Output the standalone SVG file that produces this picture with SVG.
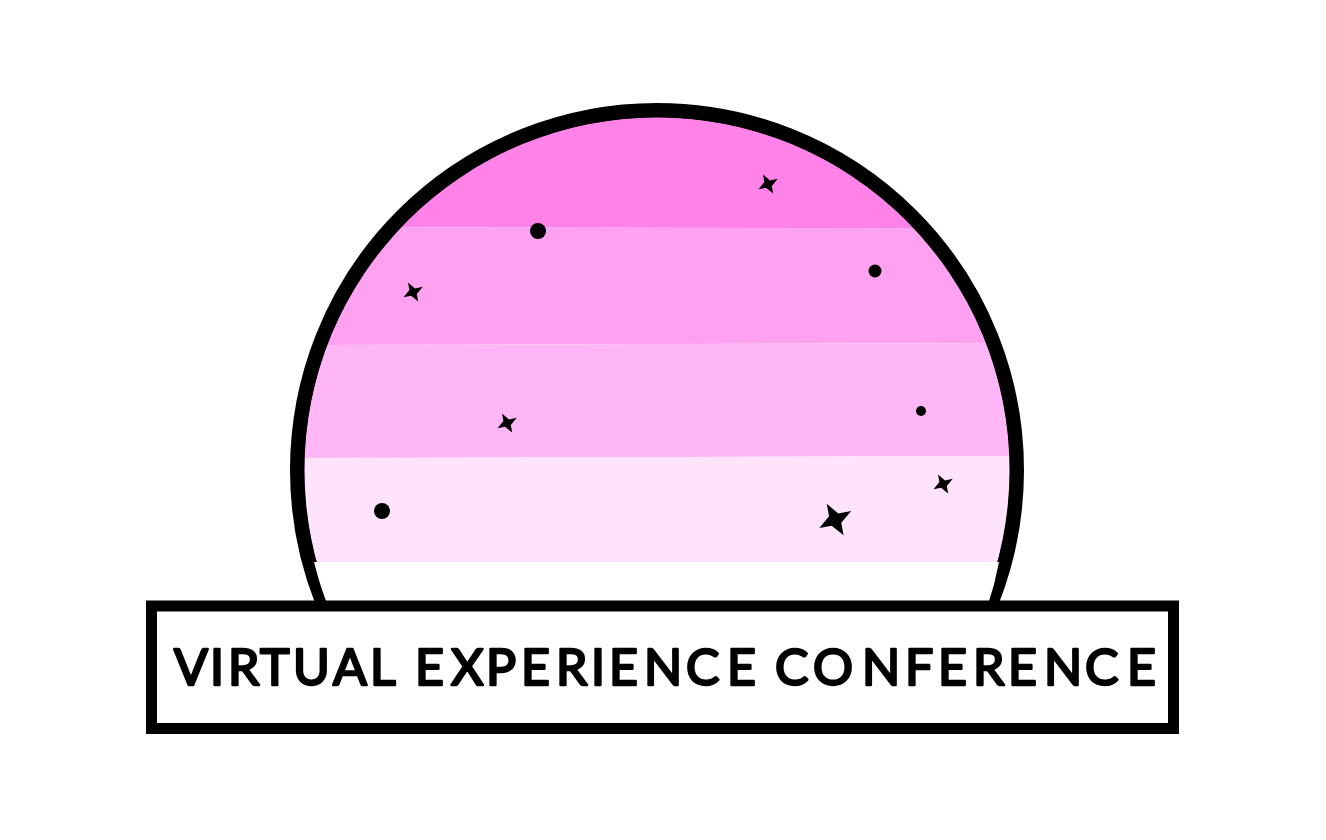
<svg xmlns="http://www.w3.org/2000/svg" width="1326" height="840" viewBox="0 0 1326 840">
<style>
.dot{fill:#000}
.star{fill:#000}
.cut{fill:#fff}
.title{font-family:"Lato","Open Sans",sans-serif;font-size:50px;fill:#000;stroke:#000;stroke-width:2.500;stroke-linejoin:round;stroke-linecap:round}
</style>
<defs>
<clipPath id="inner"><circle cx="657" cy="470" r="352.500"/></clipPath>
<clipPath id="above"><rect x="0" y="0" width="1326" height="605"/></clipPath>
<path id="s" d="M-5-9.500L2-3.600 9.800-5.200 3.800 2 5.200 9.500-2 3.800-9.500 5.200-3.600-2Z"/>
</defs>
<rect width="1326" height="840" fill="#fff"/>
<g id="dome">
<circle cx="657" cy="470" r="359.500" fill="#fff" stroke="#000" stroke-width="15" clip-path="url(#above)"/>
<path class="cut" d="M314 562H999Q995 584 987.500 606H328Q320 586 314 562Z"/>
<g clip-path="url(#inner)">
<path d="M290 100H1030V228.500L290 227Z" fill="#ff82e9"/>
<path d="M290 227L1030 228.500V343L290 345Z" fill="#ffa1f1"/>
<path d="M290 345L1030 343V456L290 458Z" fill="#ffb6f6"/>
<path d="M290 458L1030 456V562H290Z" fill="#fee3fb"/>
</g>
</g>
<g id="dots">
<circle class="dot" cx="538" cy="231" r="8"/>
<circle class="dot" cx="875" cy="271" r="6.500"/>
<circle class="dot" cx="921" cy="411" r="5"/>
<circle class="dot" cx="382" cy="511" r="8"/>
</g>
<g id="stars">
<use class="star" href="#s" transform="translate(768 184)"/>
<use class="star" href="#s" transform="translate(413 292)"/>
<use class="star" href="#s" transform="translate(507 423)"/>
<use class="star" href="#s" transform="translate(943 484)"/>
<use class="star" href="#s" transform="translate(835 519.500) scale(1.650)"/>
</g>
<g id="banner">
<rect x="151.500" y="606" width="1022" height="122.500" fill="#fff" stroke="#000" stroke-width="11"/>
<text class="title" y="685" x="174 210 228 260 293 333 370 400 415 451 486 521 556 591 609 644 686 727 760 775 813 862 905 938 973 1008 1044 1085 1127">VIRTUAL EXPERIENCE CONFERENCE</text>
</g>
</svg>
